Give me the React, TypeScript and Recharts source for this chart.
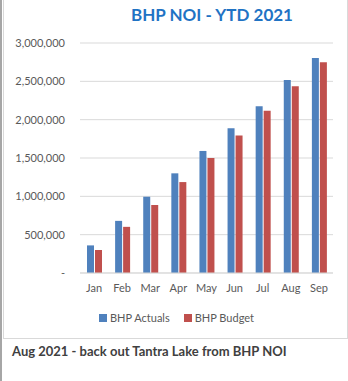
import { BarChart, Bar, XAxis, YAxis, CartesianGrid } from 'recharts'

const months = ['Jan', 'Feb', 'Mar', 'Apr', 'May', 'Jun', 'Jul', 'Aug', 'Sep']
const actuals = [360000, 680000, 995000, 1300000, 1592000, 1888000, 2174000, 2518000, 2805000]
const budget = [300000, 602000, 887000, 1186000, 1500000, 1792000, 2115000, 2435000, 2750000]
const yTicks = [0, 500000, 1000000, 1500000, 2000000, 2500000, 3000000]

const seriesNames = ['BHP Actuals', 'BHP Budget']
const seriesColors = ['#4F81BD', '#C0504D']

const data = months.map((m, i) => ({ month: m, actual: actuals[i], budget: budget[i] }))

const font = 'Lato, "Liberation Sans", sans-serif'
const tickStyle = { fontSize: 11, fill: '#595959', fontFamily: font }

function fmt(v: number) {
    if (v === 0) return '-'
    return v.toLocaleString('en-US')
}

export default function App() {
    return (
        <div style={{ position: 'absolute', left: 0, top: 0, width: 348, height: 381, background: '#fff', overflow: 'hidden' }}>
            {/* outer left edge */}
            <div style={{ position: 'absolute', left: 0, top: 0, width: 2, height: 381, background: '#a6a6a6' }} />
            {/* chart frame */}
            <div style={{ position: 'absolute', left: 3, top: -1, width: 343, height: 339, borderLeft: '1px solid #d9d9d9', borderRight: '1px solid #d9d9d9', borderBottom: '1px solid #d9d9d9' }} />

            <div style={{ position: 'absolute', left: 0, width: 424, top: 4, textAlign: 'center', fontFamily: font, fontWeight: 700, fontSize: 17, color: '#1f73c4' }}>
                BHP NOI - YTD 2021
            </div>

            <div style={{ position: 'absolute', left: 0, top: 0 }}>
                <BarChart
                    width={348}
                    height={340}
                    data={data}
                    margin={{ top: 43, right: 15, left: 10, bottom: 37 }}
                    barSize={7}
                    barGap={1}
                >
                    <CartesianGrid vertical={false} stroke="#d9d9d9" />
                    <XAxis
                        dataKey="month"
                        height={30}
                        tickLine={false}
                        axisLine={{ stroke: '#d9d9d9' }}
                        tick={tickStyle}
                        tickMargin={5}
                        interval={0}
                    />
                    <YAxis
                        width={70}
                        domain={[0, 3000000]}
                        ticks={yTicks}
                        axisLine={false}
                        tickLine={false}
                        tick={tickStyle}
                        tickMargin={9}
                        tickFormatter={fmt}
                    />
                    <Bar dataKey="actual" name={seriesNames[0]} fill={seriesColors[0]} isAnimationActive={false} />
                    <Bar dataKey="budget" name={seriesNames[1]} fill={seriesColors[1]} isAnimationActive={false} />
                </BarChart>
            </div>

            <div style={{ position: 'absolute', left: 99, top: 311, display: 'flex', alignItems: 'center', fontFamily: font, fontSize: 11, color: '#595959' }}>
                {seriesNames.map((n, i) => (
                    <div key={n} style={{ display: 'flex', alignItems: 'center', marginRight: 14 }}>
                        <span style={{ display: 'inline-block', width: 8, height: 8, background: seriesColors[i], marginRight: 3 }} />
                        <span>{n}</span>
                    </div>
                ))}
            </div>

            <div style={{ position: 'absolute', left: 12, top: 343, fontFamily: font, fontWeight: 700, fontSize: 13, color: '#404040' }}>
                Aug 2021 - back out Tantra Lake from BHP NOI
            </div>
        </div>
    )
}
